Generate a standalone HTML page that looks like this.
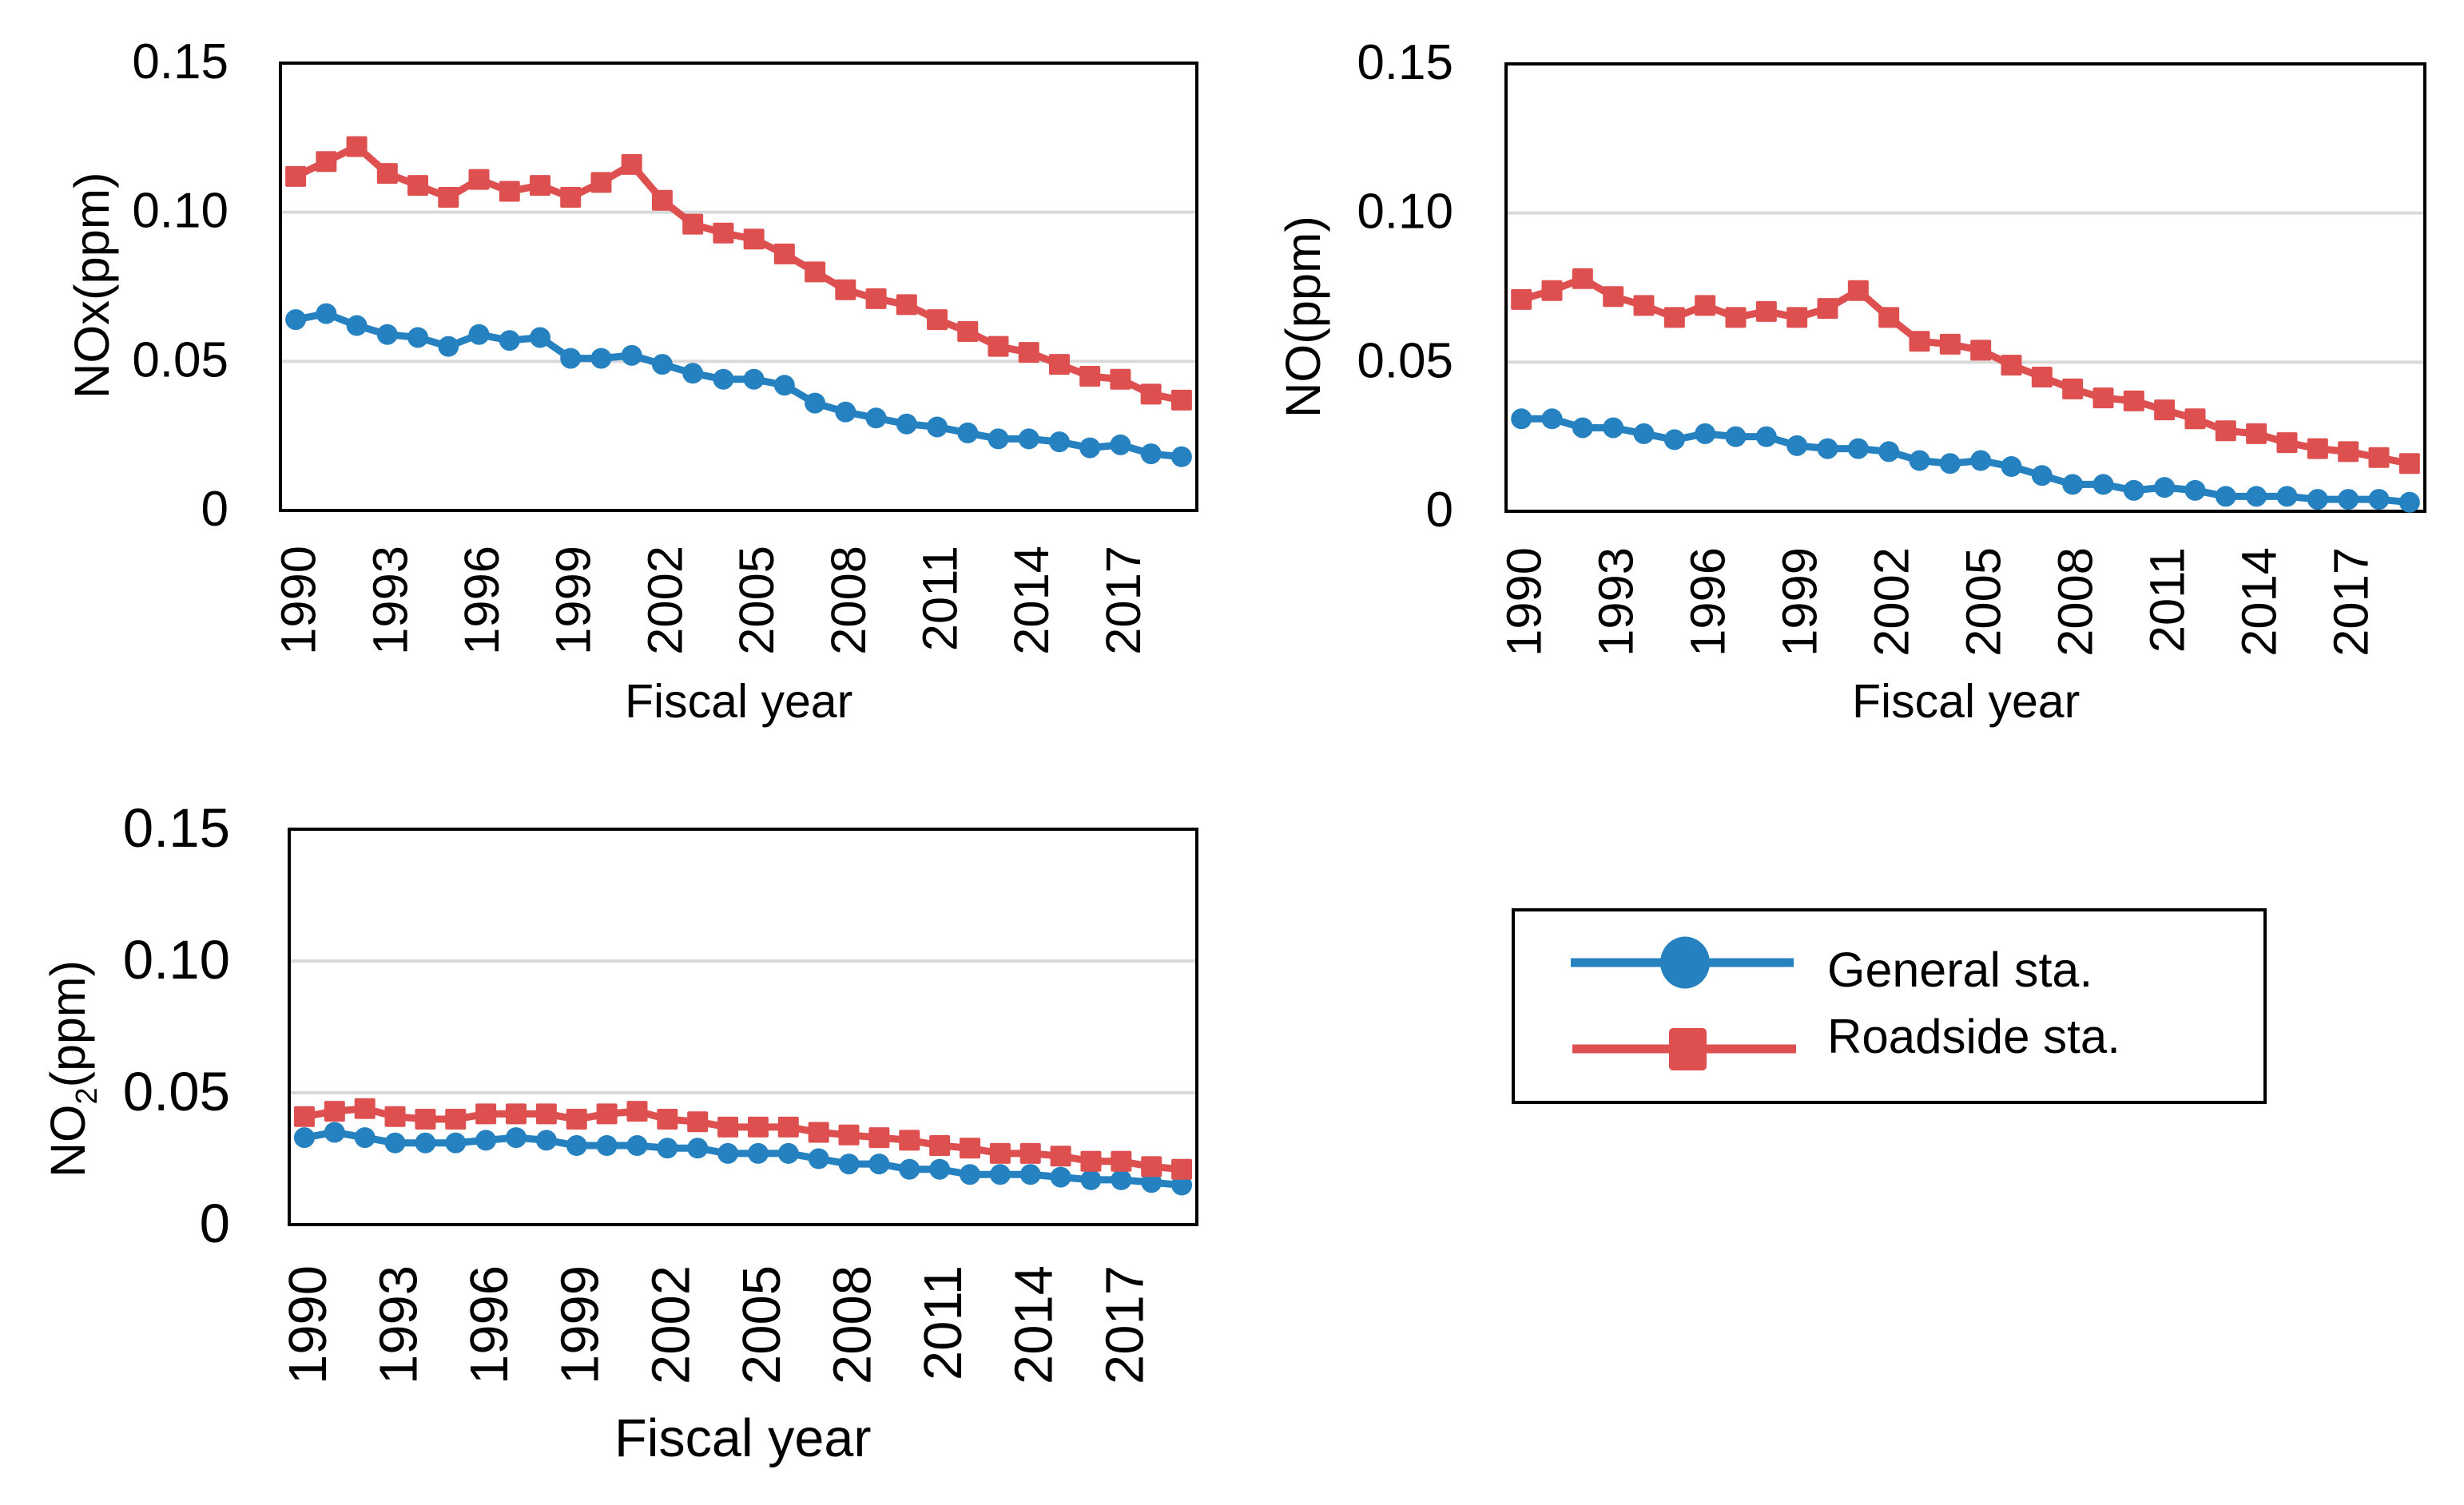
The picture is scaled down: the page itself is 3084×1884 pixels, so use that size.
<!DOCTYPE html>
<html lang="en">
<head>
<meta charset="utf-8">
<title>NOx, NO and NO2 concentrations by fiscal year</title>
<style>
  html, body { margin: 0; padding: 0; background: #fff; }
  svg { display: block; font-family: "Liberation Sans", sans-serif; fill: #000; }
</style>
</head>
<body>
<svg id="figure" xmlns="http://www.w3.org/2000/svg" width="3084" height="1884" viewBox="0 0 3084 1884">
  <rect x="0" y="0" width="3084" height="1884" fill="#fff"/>

  <g id="panel-nox"></g>
  <g id="panel-no"></g>
  <g id="panel-no2"></g>

  <text transform="translate(136 499) rotate(-90)" font-size="61.5">NOx(ppm)</text>
  <text transform="translate(1652 523) rotate(-90)" font-size="61.5">NO(ppm)</text>
  <text transform="translate(106 1474) rotate(-90)" font-size="61">NO<tspan font-size="38" dy="15">2</tspan><tspan dy="-15">(ppm)</tspan></text>

  <text x="782" y="898" font-size="59">Fiscal year</text>
  <text x="2318" y="898" font-size="59">Fiscal year</text>
  <text x="769" y="1823" font-size="66.5">Fiscal year</text>

  <g>
    <rect x="1894" y="1139" width="941" height="241" fill="#fff" stroke="#000" stroke-width="4"/>
    <g>
      <line x1="1966" y1="1205" x2="2245" y2="1205" stroke="#2581C0" stroke-width="11"/>
      <ellipse cx="2109" cy="1205" rx="31" ry="32.5" fill="#2581C0"/>
      <text x="2287" y="1235" font-size="61">General sta.</text>
    </g>
    <g>
      <line x1="1968" y1="1313" x2="2248" y2="1313" stroke="#DE5050" stroke-width="11"/>
      <rect x="2089" y="1287" width="47" height="53" rx="5" fill="#DE5050"/>
      <text x="2287" y="1318" font-size="60">Roadside sta.</text>
    </g>
  </g>
</svg>

<script>
var fiscalYears = [1990,1991,1992,1993,1994,1995,1996,1997,1998,1999,2000,2001,2002,2003,2004,2005,2006,2007,2008,2009,2010,2011,2012,2013,2014,2015,2016,2017,2018,2019];
var yTickValues = [0, 0.05, 0.10, 0.15];
var yTickLabels = ['0', '0.05', '0.10', '0.15'];
var yMaximum = 0.15;
var xLabelEvery = 3;

var noxGeneral = [0.064,0.066,0.062,0.059,0.058,0.055,0.059,0.057,0.058,0.051,0.051,0.052,0.049,0.046,0.044,0.044,0.042,0.036,0.033,0.031,0.029,0.028,0.026,0.024,0.024,0.023,0.021,0.022,0.019,0.018];
var noxRoadside = [0.112,0.117,0.122,0.113,0.109,0.105,0.111,0.107,0.109,0.105,0.110,0.116,0.104,0.096,0.093,0.091,0.086,0.080,0.074,0.071,0.069,0.064,0.060,0.055,0.053,0.049,0.045,0.044,0.039,0.037];

var noGeneral = [0.031,0.031,0.028,0.028,0.026,0.024,0.026,0.025,0.025,0.022,0.021,0.021,0.020,0.017,0.016,0.017,0.015,0.012,0.009,0.009,0.007,0.008,0.007,0.005,0.005,0.005,0.004,0.004,0.004,0.003];
var noRoadside = [0.071,0.074,0.078,0.072,0.069,0.065,0.069,0.065,0.067,0.065,0.068,0.074,0.065,0.057,0.056,0.054,0.049,0.045,0.041,0.038,0.037,0.034,0.031,0.027,0.026,0.023,0.021,0.020,0.018,0.016];

var no2General = [0.033,0.035,0.033,0.031,0.031,0.031,0.032,0.033,0.032,0.030,0.030,0.030,0.029,0.029,0.027,0.027,0.027,0.025,0.023,0.023,0.021,0.021,0.019,0.019,0.019,0.018,0.017,0.017,0.016,0.015];
var no2Roadside = [0.041,0.043,0.044,0.041,0.040,0.040,0.042,0.042,0.042,0.040,0.042,0.043,0.040,0.039,0.037,0.037,0.037,0.035,0.034,0.033,0.032,0.030,0.029,0.027,0.027,0.026,0.024,0.024,0.022,0.021];

var SVG_NS = 'http://www.w3.org/2000/svg';
var GENERAL_COLOR = '#2581C0';
var ROADSIDE_COLOR = '#DE5050';

function makeEl(tag, parent) {
  var el = document.createElementNS(SVG_NS, tag);
  parent.appendChild(el);
  return el;
}

function drawPanel(panelId, prefix, general, roadside, box) {
  var root = document.getElementById(panelId);
  var plotWidth = box.right - box.left;
  var plotHeight = box.bottom - box.top;
  var band = plotWidth / fiscalYears.length;

  function xScale(i) { return box.left + band * (i + 0.5); }
  function yScale(v) { return box.bottom - (v / yMaximum) * plotHeight; }

  yTickValues.forEach(function (v, i) {
    if (v > 0 && v < yMaximum) {
      var grid = makeEl('line', root);
      
      
      grid.setAttribute('x1', box.left);
      grid.setAttribute('x2', box.right);
      grid.setAttribute('y1', yScale(v));
      grid.setAttribute('y2', yScale(v));
      grid.setAttribute('stroke', '#D9D9D9');
      grid.setAttribute('stroke-width', '4');
    }
    var tick = makeEl('text', root);
    
    
    tick.setAttribute('x', box.tickRight);
    tick.setAttribute('y', yScale(v) + box.tickOffset);
    tick.setAttribute('text-anchor', 'end');
    tick.setAttribute('font-size', box.tickFont);
    tick.textContent = yTickLabels[i];
  });

  var frame = makeEl('rect', root);
  
  
  frame.setAttribute('x', box.left);
  frame.setAttribute('y', box.top);
  frame.setAttribute('width', plotWidth);
  frame.setAttribute('height', plotHeight);
  frame.setAttribute('fill', 'none');
  frame.setAttribute('stroke', '#000');
  frame.setAttribute('stroke-width', '4');

  fiscalYears.forEach(function (year, i) {
    if (i % xLabelEvery !== 0) { return; }
    var label = makeEl('text', root);
    
    
    label.setAttribute('transform', 'translate(' + (xScale(i) + box.labelShift) + ' ' + box.labelTop + ') rotate(-90)');
    label.setAttribute('text-anchor', 'end');
    label.setAttribute('font-size', box.yearFont);
    label.textContent = String(year);
  });

  function linePoints(values) {
    return values.map(function (v, i) { return xScale(i) + ',' + yScale(v); }).join(' ');
  }

  var generalLine = makeEl('polyline', root);
  
  
  generalLine.setAttribute('points', linePoints(general));
  generalLine.setAttribute('fill', 'none');
  generalLine.setAttribute('stroke', GENERAL_COLOR);
  generalLine.setAttribute('stroke-width', '9');

  general.forEach(function (v, i) {
    var dot = makeEl('circle', root);
    
    
    dot.setAttribute('cx', xScale(i));
    dot.setAttribute('cy', yScale(v));
    dot.setAttribute('r', '13');
    dot.setAttribute('fill', GENERAL_COLOR);
  });

  var roadsideLine = makeEl('polyline', root);
  
  
  roadsideLine.setAttribute('points', linePoints(roadside));
  roadsideLine.setAttribute('fill', 'none');
  roadsideLine.setAttribute('stroke', ROADSIDE_COLOR);
  roadsideLine.setAttribute('stroke-width', '9');

  roadside.forEach(function (v, i) {
    var square = makeEl('rect', root);
    
    
    square.setAttribute('x', xScale(i) - 13);
    square.setAttribute('y', yScale(v) - 13);
    square.setAttribute('width', '26');
    square.setAttribute('height', '26');
    square.setAttribute('rx', '2');
    square.setAttribute('fill', ROADSIDE_COLOR);
  });
}

drawPanel('panel-nox', 'nox', noxGeneral, noxRoadside, {
  left: 351, right: 1498, top: 79, bottom: 639,
  tickRight: 286, tickOffset: 19, tickFont: 62, yearFont: 61.5, labelShift: 24.5, labelTop: 683
});
drawPanel('panel-no', 'no', noGeneral, noRoadside, {
  left: 1885, right: 3035, top: 80, bottom: 640,
  tickRight: 1819, tickOffset: 19, tickFont: 62, yearFont: 61.5, labelShift: 24.5, labelTop: 685
});
drawPanel('panel-no2', 'no2', no2General, no2Roadside, {
  left: 362, right: 1498, top: 1038, bottom: 1533,
  tickRight: 288, tickOffset: 22, tickFont: 69, yearFont: 67, labelShift: 27, labelTop: 1584
});
</script>
</body>
</html>
